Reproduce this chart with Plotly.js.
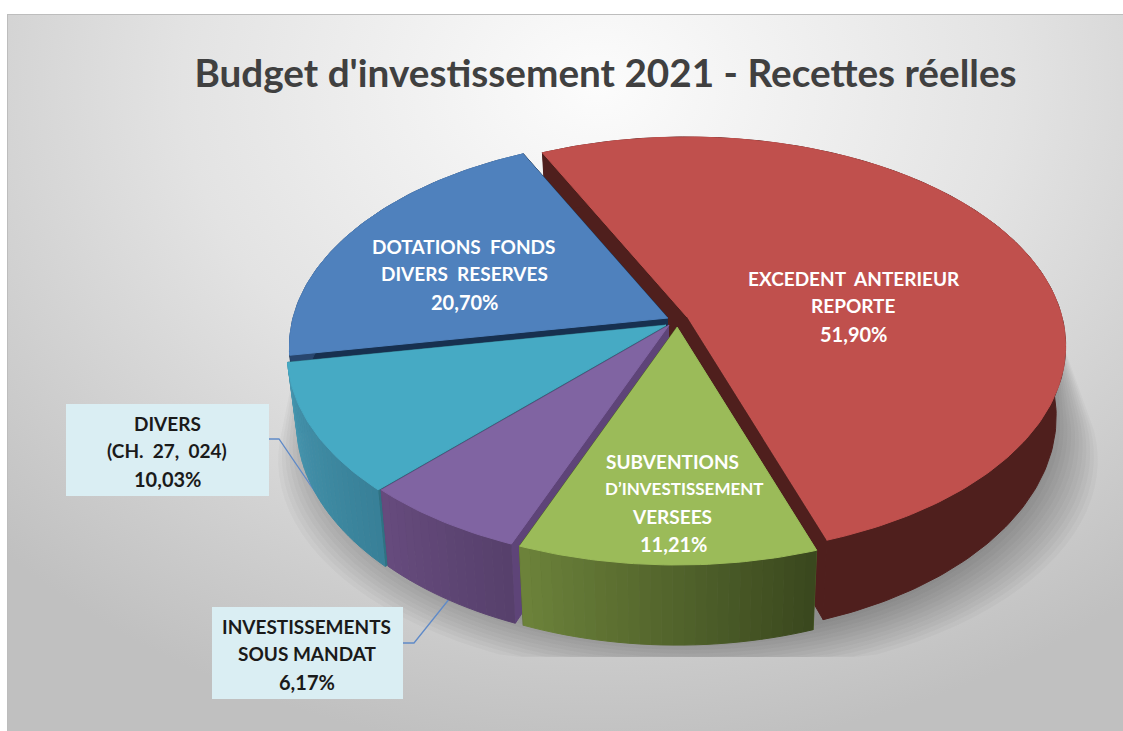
<!DOCTYPE html>
<html>
<head>
<meta charset="utf-8">
<script src="https://cdn.plot.ly/plotly-3.0.1.min.js"></script>
<style>
html,body{margin:0;padding:0;width:1123px;height:731px;overflow:hidden;background:#fff}
#bg{position:absolute;left:7px;top:14px;width:1116px;height:717px;box-sizing:border-box;border-top:1px solid #bdbdbd;border-left:1px solid #bdbdbd;
background:radial-gradient(ellipse 830px 670px at 590px 70px,#fcfcfc 0%,#e3e3e3 50%,#c0c0c0 100%)}
#chart{position:absolute;left:0;top:0;width:1123px;height:731px}
</style>
</head>
<body>
<div id="bg"></div>
<div id="chart"></div>
<script>
// ---- data ----
const categories = ["EXCEDENT ANTERIEUR REPORTE","SUBVENTIONS D'INVESTISSEMENT VERSEES","INVESTISSEMENTS SOUS MANDAT","DIVERS (CH. 27, 024)","DOTATIONS FONDS DIVERS RESERVES"];
const values = [51.90, 11.21, 6.17, 10.03, 20.70];
const labelLines = [
  ["EXCEDENT  ANTERIEUR","REPORTE"],
  ["SUBVENTIONS","D\u2019INVESTISSEMENT","VERSEES"],
  ["INVESTISSEMENTS","SOUS MANDAT"],
  ["DIVERS","(CH.  27,  024)"],
  ["DOTATIONS  FONDS","DIVERS  RESERVES"]
];
const titleText = "Budget d'investissement 2021 - Recettes r\u00e9elles";

// ---- styling ----
const topColors = ["#c0504d","#9bbb59","#8064a2","#46aac4","#4f81bd"];
const wallColors = ["#4f1f1d","#4a5c28","#5e4478","#2f7283","#17304f"];
const sideFrom = [[79,31,29],[58,72,30],[87,64,108],[56,128,152],[40,70,110]];
const sideTo   = [[79,31,29],[108,130,58],[102,75,125],[70,150,175],[40,70,110]];
const tipX = [687,677,669,666,668], tipY = [317,327,325,325,318];
const labelX = [[854,853,853],[672,684,672,673],[306,307,307],[167,167,167],[463,464,464]];
const labelSize = [[19,19,20],[19,17,19,20],[19,19,20],[19,19,20],[19,19,20]];
const labelY0 = [278,461,626,423,246];
const labelColor = ["#fff","#fff","#1a1a1a","#1a1a1a","#fff"];
const R = 375, B = 205, K = 0.1386, DEPTH = 69, BOTTOM_SCALE = 0.975, START = -25.7;

// ---- geometry through the values ----
const total = values.reduce((a,b)=>a+b,0);
function topPt(i,deg){
  const t = deg*Math.PI/180, x = Math.sin(t), y = Math.cos(t), s = 1/(1+K*y);
  return {x: tipX[i]+R*x*s, y: tipY[i]-B*y*s, s};
}
function botPt(i,deg){
  const p = topPt(i,deg);
  return {x: tipX[i]+(p.x-tipX[i])*BOTTOM_SCALE, y: p.y+DEPTH*p.s};
}
function poly(pts,color,opts){
  return Object.assign({type:"scatter",mode:"lines",x:pts.map(p=>p.x),y:pts.map(p=>p.y),fill:"toself",fillcolor:color,
    line:{color:color,width:1},hoverinfo:"skip",showlegend:false},opts||{});
}
function arc(fn,i,a,b,n){const o=[];for(let j=0;j<=n;j++)o.push(fn(i,a+(b-a)*j/n));return o;}
function mix(a,b,t){return "rgb("+a.map((v,j)=>Math.round(v+(b[j]-v)*t)).join(",")+")";}

// shadow: soft hull of the front of the top plane and a dilated, lowered bottom plane
function hull(pts){
  const p=pts.slice().sort((a,b)=>a.x-b.x||a.y-b.y), cr=(o,a,b)=>(a.x-o.x)*(b.y-o.y)-(a.y-o.y)*(b.x-o.x);
  const lo=[],up=[];
  for(const q of p){while(lo.length>1&&cr(lo[lo.length-2],lo[lo.length-1],q)<=0)lo.pop();lo.push(q);}
  for(const q of p.slice().reverse()){while(up.length>1&&cr(up[up.length-2],up[up.length-1],q)<=0)up.pop();up.push(q);}
  return lo.slice(0,-1).concat(up.slice(0,-1));
}
const traces = [];
const LAYERS = 12;
for(let l=0;l<LAYERS;l++){
  const t = 1-l/(LAYERS-1), pts=[];
  for(let a=0;a<360;a+=3){
    const p=topPt(0,a), q=botPt(0,a);
    if(Math.cos(a*Math.PI/180)<0.2) pts.push({x:p.x-8,y:p.y+4});
    pts.push({x:678+(q.x-678)*(1.0+0.11*t),y:q.y+4+40*t});
  }
  const h=hull(pts).map(p=>({x:p.x,y:Math.min(p.y,657)}));
  traces.push(poly(h,"rgba(0,0,0,0.027)",{line:{width:0}}));
}
// leader lines
traces.push({type:"scatter",mode:"lines",x:[269,279,324],y:[439,439,505],line:{color:"#5f8ac8",width:1.3},hoverinfo:"skip",showlegend:false});
traces.push({type:"scatter",mode:"lines",x:[403,414,450],y:[643,643,598],line:{color:"#5f8ac8",width:1.3},hoverinfo:"skip",showlegend:false});

// slices, painted back to front
const bounds = []; let acc = START;
values.forEach(v=>{bounds.push([acc,acc+v/total*360]);acc+=v/total*360;});
const order = [0,4,3,2,1];
order.forEach(i=>{
  const [a,b] = bounds[i];
  const tipT={x:tipX[i],y:tipY[i]}, tipB={x:tipX[i],y:tipY[i]+DEPTH};
  // cut walls
  [a,b].forEach(d=>traces.push(poly([tipT,topPt(i,d),botPt(i,d),tipB],wallColors[i])));
  // outer side, faceted where it is shaded
  const flat = sideFrom[i].join()===sideTo[i].join();
  const n = flat ? 1 : Math.max(1,Math.round((b-a)/1.5));
  for(let j=0;j<n;j++){
    const a0=a+(b-a)*j/n, a1=a+(b-a)*(j+1)/n, steps=flat?Math.ceil(b-a):2;
    const pts=arc(topPt,i,a0,a1,steps).concat(arc(botPt,i,a1,a0,steps));
    traces.push(poly(pts,mix(sideFrom[i],sideTo[i],n>1?j/(n-1):0)));
  }
  // top face
  traces.push(poly([tipT].concat(arc(topPt,i,a,b,Math.ceil(b-a))),topColors[i],{name:categories[i]}));
});

// labels
const FONT = "Lato, 'Open Sans', sans-serif";
const annotations = [];
categories.forEach((c,i)=>{
  const lines = labelLines[i].concat(values[i].toFixed(2).replace(".",",")+"%");
  lines.forEach((t,j)=>annotations.push({xref:"x",yref:"y",x:labelX[i][j],y:labelY0[i]+j*27.8,text:"<b>"+t+"</b>",showarrow:false,
    xanchor:"center",yanchor:"middle",font:{family:FONT,size:labelSize[i][j],color:labelColor[i]}}));
});

const boxes = [[66,404,269,496],[212,607,403,699]].map(r=>({type:"rect",xref:"x",yref:"y",x0:r[0],y0:r[1],x1:r[2],y1:r[3],
  fillcolor:"#daeef3",line:{width:0},layer:"above"}));

const layout = {
  width:1123,height:731,margin:{l:0,r:0,t:0,b:0,pad:0},
  paper_bgcolor:"rgba(0,0,0,0)",plot_bgcolor:"rgba(0,0,0,0)",showlegend:false,
  title:{text:"<b>"+titleText+"</b>",x:605.5/1123,y:1-73/731,xref:"paper",yref:"paper",xanchor:"center",yanchor:"middle",
    font:{family:FONT,size:38.7,color:"#404040"}},
  xaxis:{range:[0,1123],visible:false,fixedrange:true},
  yaxis:{range:[731,0],visible:false,fixedrange:true},
  shapes:boxes,annotations:annotations
};
Plotly.newPlot("chart",traces,layout,{displayModeBar:false,staticPlot:true});
</script>
</body>
</html>
